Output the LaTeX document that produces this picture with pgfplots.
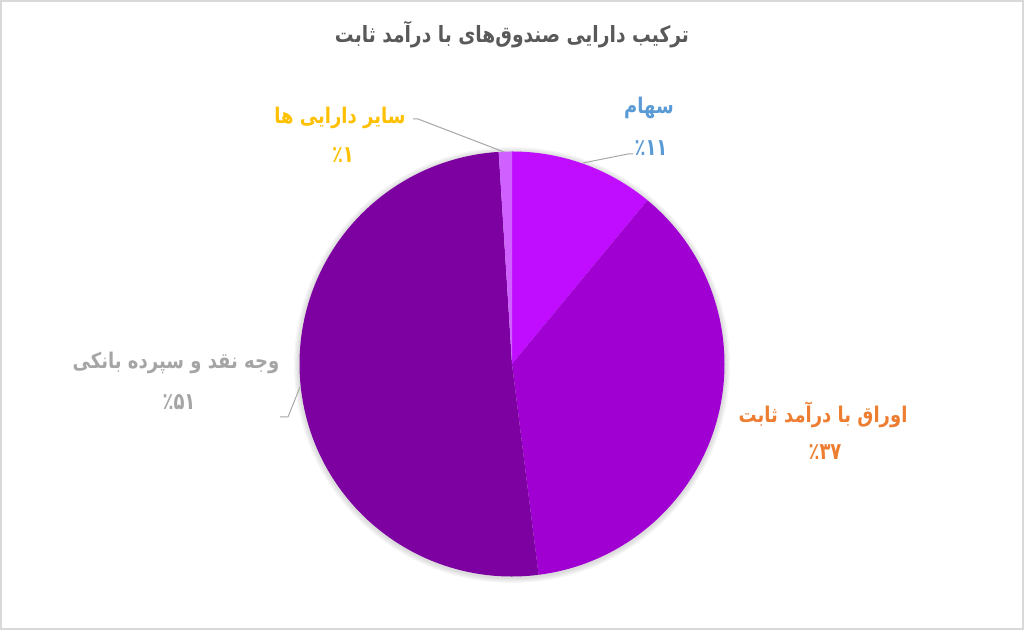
\documentclass[border=0pt]{standalone}
\usepackage{pgfplots}
\usepackage{pgfplotstable}
\usepackage{graphicx}
\pgfplotsset{compat=1.18}
\usepackage{fontspec}
\setmainfont{DejaVu Sans}
\newfontfamily\fa[Script=Arabic]{DejaVu Sans}
\TeXXeTstate=1
\definecolor{cA}{HTML}{C00CFF}
\definecolor{cB}{HTML}{A000D2}
\definecolor{cC}{HTML}{7D00A0}
\definecolor{cD}{HTML}{D060FF}
\definecolor{lblue}{HTML}{5B9BD5}
\definecolor{lorange}{HTML}{ED7D31}
\definecolor{lgray}{HTML}{A5A5A5}
\definecolor{lgold}{HTML}{FFC000}
\definecolor{ttl}{HTML}{595959}
\definecolor{lead}{HTML}{A6A6A6}
\definecolor{frame}{HTML}{D9D9D9}

% share of each asset class, percent (clockwise from 12 o'clock)
\pgfplotstableread{
value color
11 cA
37 cB
51 cC
1 cD
}\piedata

\newcommand\lbl{\fa\bfseries\fontsize{13.5}{15}\selectfont}
\newcommand\rtl[1]{\scalebox{1}[1.2]{\beginR #1\endR}}
\newcommand\pct[1]{\scalebox{1}[1.3]{\beginR #1\endR}}

\begin{document}
\begin{tikzpicture}
\begin{axis}[
  width=768pt, height=472.5pt, scale only axis,
  xmin=0, xmax=1024, ymin=0, ymax=630,
  hide axis, clip=false,
]
\path (axis cs:0,0) rectangle (axis cs:1024,630);
\draw[frame, line width=1.5pt] (axis cs:1,1) rectangle (axis cs:1023,629);

% soft shadow
\foreach \r in {160.5,161.5,162.5,163.5}{
  \edef\temp{\noexpand\fill[black,opacity=0.035] (axis cs:512,265) circle[radius=\r pt];}\temp
}

\pgfplotstablegetrowsof{\piedata}
\pgfmathtruncatemacro\N{\pgfplotsretval-1}
\def\cum{0}
\pgfplotsforeachungrouped \i in {0,...,\N}{
  \pgfplotstablegetelem{\i}{value}\of\piedata \let\v\pgfplotsretval
  \pgfplotstablegetelem{\i}{color}\of\piedata \let\c\pgfplotsretval
  \pgfmathsetmacro\a{90-3.6*\cum}
  \pgfmathsetmacro\b{90-3.6*(\cum+\v)}
  \edef\temp{\noexpand\fill[\c] (axis cs:512,266) -- ++(\a:159.375pt) arc[start angle=\a, end angle=\b, radius=159.375pt] -- cycle;}
  \temp
  \pgfmathsetmacro\cum{\cum+\v}
}

% leader lines
\draw[lead, line width=0.75pt] (axis cs:583,467) -- (axis cs:628,476) -- (axis cs:633,476);
\draw[lead, line width=0.75pt] (axis cs:413,511) -- (axis cs:418,511) -- (axis cs:504,478);
\draw[lead, line width=0.75pt] (axis cs:280,213) -- (axis cs:288,213) -- (axis cs:300,243);

% title
\node[ttl, font=\fa\bfseries\fontsize{14}{16}\selectfont] at (axis cs:512,595) {\rtl{ترکیب دارایی صندوق‌های با درآمد ثابت}};

% labels
\node[lblue, font=\lbl] at (axis cs:649,522) {\rtl{سهام}};
\node[lblue, font=\lbl] at (axis cs:651,482) {\pct{٪۱۱}};
\node[lgold, font=\lbl] at (axis cs:340,512) {\rtl{سایر دارایی ها}};
\node[lgold, font=\lbl] at (axis cs:343,475) {\pct{٪۱}};
\node[lgray, font=\lbl] at (axis cs:176,267) {\rtl{وجه نقد و سپرده بانکی}};
\node[lgray, font=\lbl] at (axis cs:179,228) {\pct{٪۵۱}};
\node[lorange, font=\lbl] at (axis cs:823,215) {\rtl{اوراق با درآمد ثابت}};
\node[lorange, font=\lbl] at (axis cs:825,178) {\pct{٪۳۷}};
\end{axis}
\end{tikzpicture}
\end{document}
